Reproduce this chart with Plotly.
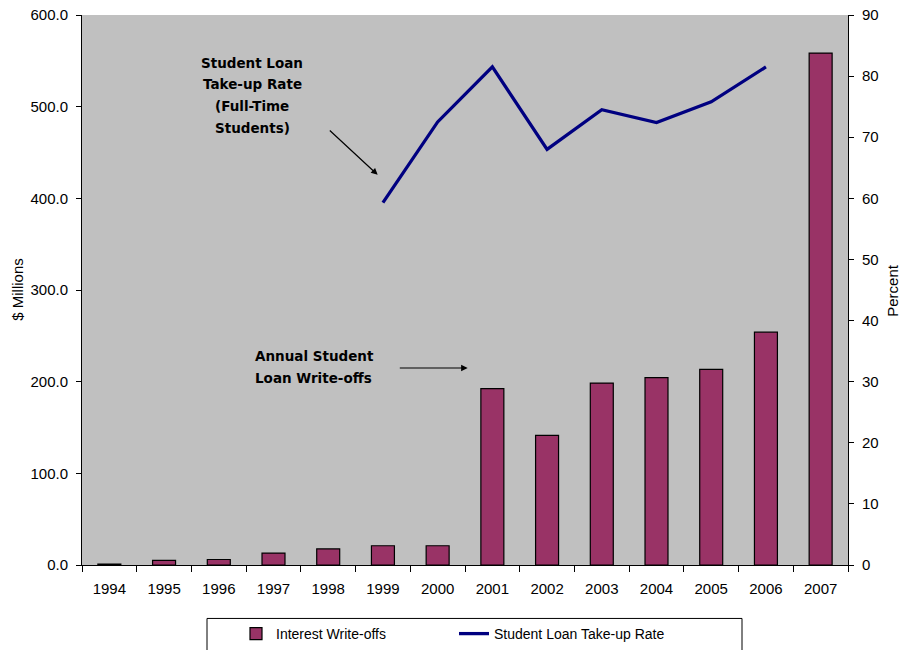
import plotly.graph_objects as go

# Fiscal years on the category axis
years = ["1994", "1995", "1996", "1997", "1998", "1999", "2000",
         "2001", "2002", "2003", "2004", "2005", "2006", "2007"]

# Interest write-offs, $ millions
write_offs = [1.0, 5.0, 6.0, 13.0, 17.5, 21.0, 21.0,
              192.5, 141.5, 198.5, 204.5, 213.5, 254.0, 558.5]

# Student loan take-up rate among full-time students, percent
take_up = [None, None, None, None, None, 59.3, 72.5,
           81.5, 68.0, 74.5, 72.4, 75.8, 81.5, None]

left_ticks = [0, 100, 200, 300, 400, 500, 600]
right_ticks = [0, 10, 20, 30, 40, 50, 60, 70, 80, 90]

W, H = 901, 650
L, R, T, B = 82, 53, 15, 84.5
PW, PH = W - L - R, H - T - B


def px_x(x):
    return (x - L) / PW


def px_y(y):
    return (H - B - y) / PH


TICK_FONT = dict(family="Liberation Sans, Arial, sans-serif", size=15, color="black")
LEGEND_FONT = dict(family="Liberation Sans, Arial, sans-serif", size=14, color="black")
NOTE_FONT = dict(family="DejaVu Sans, Verdana, sans-serif", size=13.5, color="black")

fig = go.Figure()

fig.add_trace(go.Bar(
    x=years, y=write_offs, name="Interest Write-offs",
    marker=dict(color="#993366", line=dict(color="black", width=1.2)),
    xaxis="x", yaxis="y", legend="legend",
))

fig.add_trace(go.Scatter(
    x=years, y=take_up, name="Student Loan Take-up Rate",
    mode="lines", line=dict(color="#000080", width=3.3),
    xaxis="x", yaxis="y2", connectgaps=False, legend="legend2",
))

annotations = []
# Bold callout text, one line per annotation for Excel-like line spacing
for text, cy in [("Student Loan", 63), ("Take-up Rate", 84.5),
                 ("(Full-Time", 106.5), ("Students)", 128.3)]:
    annotations.append(dict(
        text="<b>%s</b>" % text, x=px_x(252), y=px_y(cy), xref="paper", yref="paper",
        xanchor="center", yanchor="middle", showarrow=False, font=NOTE_FONT))
for text, cy in [("Annual Student", 356), ("Loan Write-offs", 378.3)]:
    annotations.append(dict(
        text="<b>%s</b>" % text, x=px_x(253), y=px_y(cy), xref="paper", yref="paper",
        xanchor="left", yanchor="middle", showarrow=False, font=NOTE_FONT))

# Pointer arrows (tail offsets in pixels from the head)
for (x0, y0, x1, y1) in [(328.3, 129.3, 377.7, 175.0), (398.3, 368.3, 467.7, 368.3)]:
    annotations.append(dict(
        text="", x=px_x(x1), y=px_y(y1), xref="paper", yref="paper",
        ax=x0 - x1, ay=y0 - y1, axref="pixel", ayref="pixel",
        showarrow=True, arrowhead=2, arrowsize=1.1, arrowwidth=1.2, arrowcolor="black"))

# Axis titles
annotations.append(dict(text="$ Millions", x=px_x(18), y=px_y(290), xref="paper", yref="paper",
                        textangle=-90, showarrow=False, font=TICK_FONT,
                        xanchor="center", yanchor="middle"))
annotations.append(dict(text="Percent", x=px_x(893), y=px_y(290), xref="paper", yref="paper",
                        textangle=-90, showarrow=False, font=TICK_FONT,
                        xanchor="center", yanchor="middle"))

shapes = [
    # legend frame
    dict(type="rect", xref="paper", yref="paper",
         x0=px_x(207), x1=px_x(742), y0=px_y(619), y1=px_y(680),
         fillcolor="white", line=dict(color="black", width=1), layer="below"),
]

legend_common = dict(orientation="h", xref="container", yref="container",
                     xanchor="left", y=0, yanchor="bottom",
                     bgcolor="rgba(0,0,0,0)", borderwidth=0, font=LEGEND_FONT)

fig.update_layout(
    template="none",
    width=W, height=H,
    margin=dict(l=L, r=R, t=T, b=B, pad=0, autoexpand=False),
    paper_bgcolor="white", plot_bgcolor="#C0C0C0",
    bargap=0.58,
    showlegend=True,
    legend=dict(x=236 / W, **legend_common),
    legend2=dict(x=454 / W, **legend_common),
    xaxis=dict(type="category", range=[-0.5, 13.5], tickson="boundaries",
               ticks="outside", ticklen=6, tickcolor="black", tickwidth=1,
               ticklabelstandoff=10, automargin=False,
               showline=True, linecolor="black", linewidth=1, showgrid=False,
               tickfont=TICK_FONT, fixedrange=True),
    xaxis2=dict(type="category", overlaying="x", anchor="y", side="bottom",
                categoryorder="array", categoryarray=years, range=[-0.5, 13.5],
                tickson="boundaries", ticks="inside", ticklen=5, tickcolor="black",
                showticklabels=False, showgrid=False, showline=False, automargin=False),
    yaxis=dict(range=[0, 600], tickvals=left_ticks, tickformat=".1f",
               ticks="outside", ticklen=5, tickcolor="black", ticklabelstandoff=5,
               showline=True, linecolor="black", linewidth=1, showgrid=False,
               zeroline=False, tickfont=TICK_FONT, automargin=False),
    yaxis2=dict(range=[0, 90], tickvals=right_ticks, overlaying="y", side="right",
                ticks="outside", ticklen=5, tickcolor="black", ticklabelstandoff=5,
                showline=True, linecolor="black", linewidth=1, showgrid=False,
                zeroline=False, tickfont=TICK_FONT, automargin=False),
    annotations=annotations,
    shapes=shapes,
)

fig.write_html("out.html")
